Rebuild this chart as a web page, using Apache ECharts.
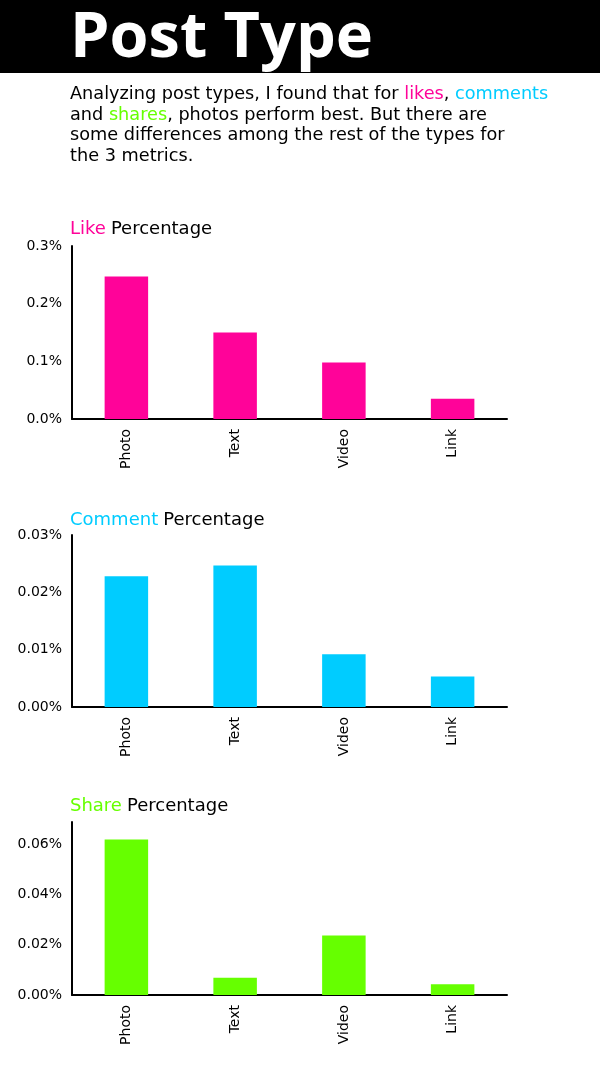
<!DOCTYPE html>
<html>
<head>
<meta charset="utf-8">
<script src="https://cdn.jsdelivr.net/npm/echarts@6/dist/echarts.min.js"></script>
<style>
  html, body { margin: 0; padding: 0; background: #fff; }
  #main { width: 600px; height: 1083px; }
</style>
</head>
<body>
<div id="main"></div>
<script>
const categories = ['Photo', 'Text', 'Video', 'Link'];
const likeValues = [0.247, 0.150, 0.098, 0.035];
const commentValues = [0.0228, 0.0247, 0.0092, 0.0053];
const shareValues = [0.0620, 0.0069, 0.0237, 0.0043];

const PINK = '#ff0399';
const CYAN = '#00ccff';
const GREEN = '#66ff00';
const FONT = '"Open Sans", sans-serif';
const WIDE = '"DejaVu Sans", sans-serif';

const chart = echarts.init(document.getElementById('main'), null, { renderer: 'canvas' });

// one grid per metric, same width, stacked down the page
const grids = [
    { left: 72, top: 246, width: 435, height: 173 },
    { left: 72, top: 535, width: 435, height: 172 },
    { left: 72, top: 822, width: 435, height: 173 },
];

function xAxisFor(i) {
    return {
        type: 'category',
        gridIndex: i,
        data: categories,
        axisLine: { lineStyle: { color: '#000', width: 2 } },
        axisTick: { show: false },
        axisLabel: { rotate: 90, color: '#000', fontFamily: WIDE, fontSize: 14, margin: 10 },
    };
}

function yAxisFor(i, max, interval, digits) {
    return {
        type: 'value',
        gridIndex: i,
        min: 0,
        max: max,
        interval: interval,
        splitLine: { show: false },
        axisLine: { show: true, lineStyle: { color: '#000', width: 2 } },
        axisTick: { show: false },
        axisLabel: {
            color: '#000', fontFamily: WIDE, fontSize: 14, margin: 10,
            showMaxLabel: digits === 2 && max > 0.06 ? false : true,
            formatter: (v) => v.toFixed(digits) + '%',
        },
    };
}

function barSeries(i, data, color) {
    return {
        type: 'bar',
        xAxisIndex: i,
        yAxisIndex: i,
        data: data,
        barWidth: '40%',
        itemStyle: { color: color },
        silent: true,
    };
}

const txt = (color) => ({ color: color, fontFamily: WIDE, fontSize: 18, fontWeight: 'normal' });

const chartTitle = (word, color, top) => ({
    left: 70,
    top: top,
    padding: 0,
    text: '{c|' + word + '} {k|Percentage}',
    textStyle: { rich: { c: txt(color), k: txt('#000') } },
});

const para = [
    '{k|Analyzing post types, I found that for }{p|likes}{k|, }{c|comments}',
    '{k|and }{g|shares}{k|, photos perform best. But there are}',
    '{k|some differences among the rest of the types for}',
    '{k|the 3 metrics.}',
].join('\n');

const ptxt = (color) => ({ color: color, fontFamily: WIDE, fontSize: 17.7, lineHeight: 20.7, fontWeight: 'normal' });

chart.setOption({
    animation: false,
    backgroundColor: '#fff',
    graphic: [
        { type: 'rect', shape: { x: 0, y: 0, width: 600, height: 73 }, style: { fill: '#000' } },
    ],
    title: [
        {
            left: 70, top: 1, padding: 0,
            text: 'Post Type',
            textStyle: { color: '#fff', fontFamily: FONT, fontWeight: 'bold', fontSize: 63, lineHeight: 76 },
        },
        {
            left: 70, top: 84, padding: 0,
            text: para,
            textStyle: { rich: { k: ptxt('#000'), p: ptxt(PINK), c: ptxt(CYAN), g: ptxt(GREEN) } },
        },
        chartTitle('Like', PINK, 220),
        chartTitle('Comment', CYAN, 511),
        chartTitle('Share', GREEN, 797),
    ],
    grid: grids,
    xAxis: [xAxisFor(0), xAxisFor(1), xAxisFor(2)],
    yAxis: [
        yAxisFor(0, 0.3, 0.1, 1),
        yAxisFor(1, 0.03, 0.01, 2),
        yAxisFor(2, 0.069, 0.02, 2),
    ],
    series: [
        barSeries(0, likeValues, PINK),
        barSeries(1, commentValues, CYAN),
        barSeries(2, shareValues, GREEN),
    ],
});
</script>
</body>
</html>
